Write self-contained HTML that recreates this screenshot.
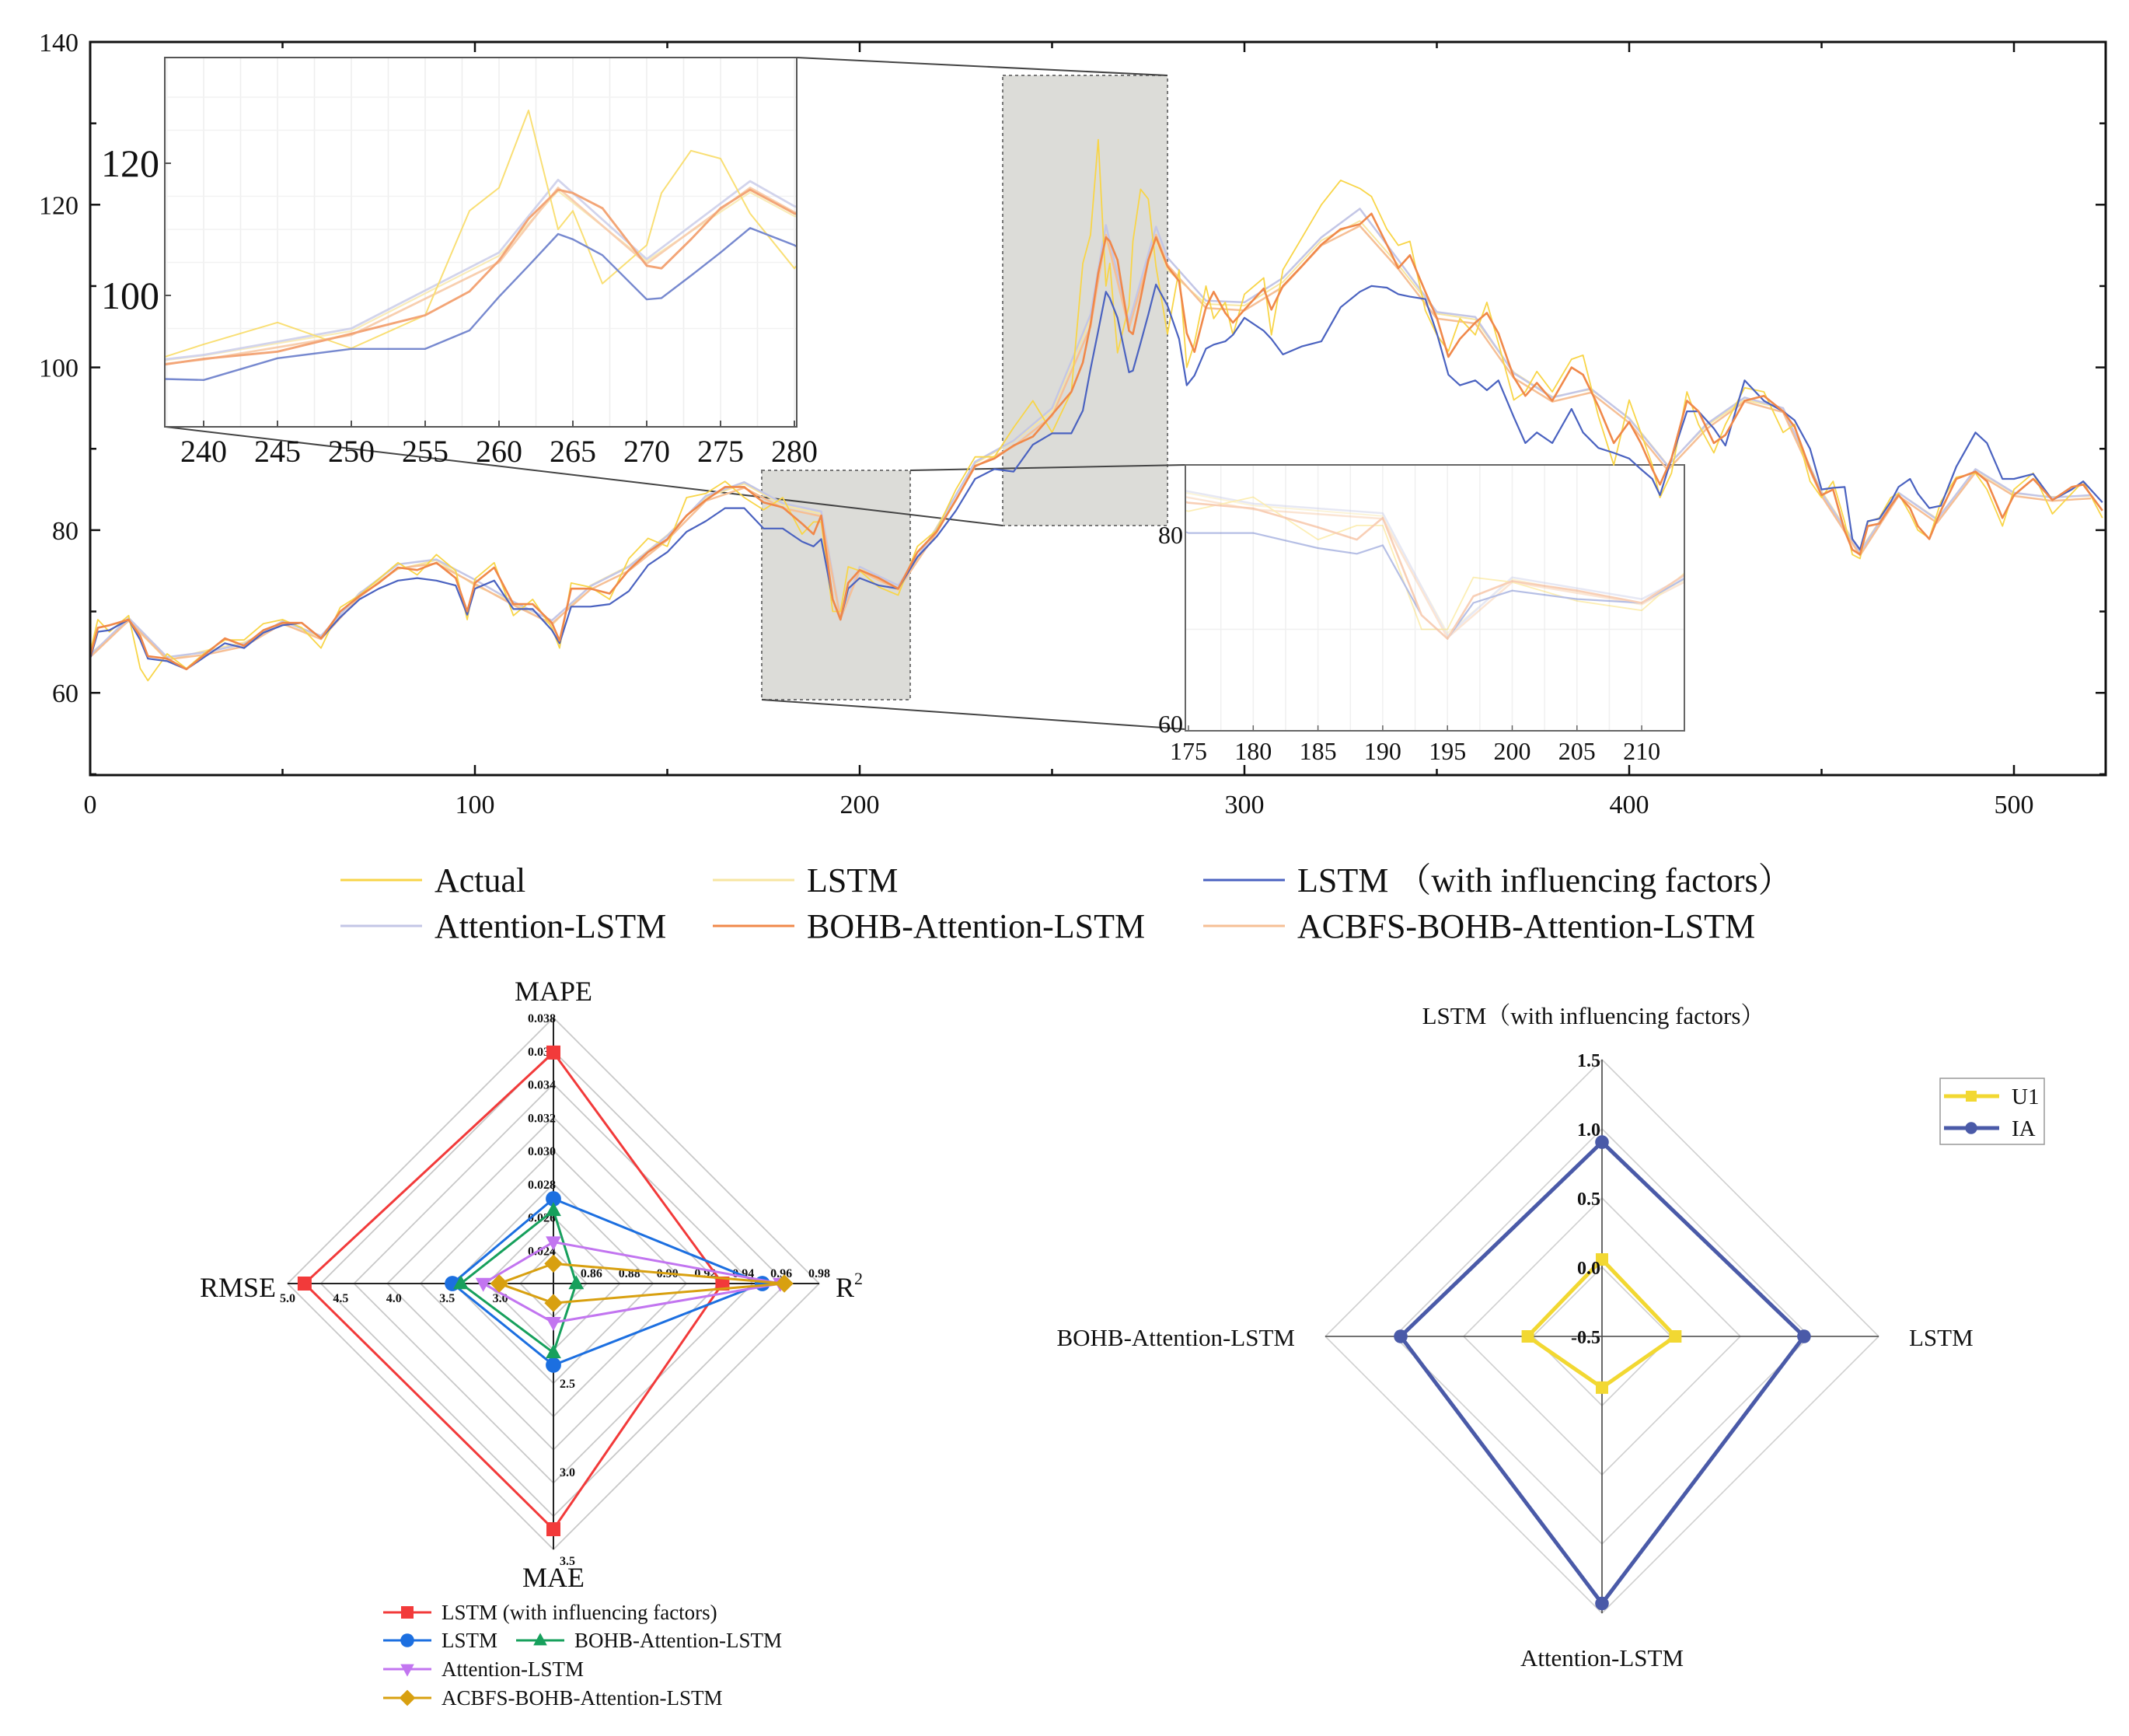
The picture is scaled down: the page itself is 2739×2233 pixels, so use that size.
<!DOCTYPE html>
<html><head><meta charset="utf-8"><style>
html,body{margin:0;padding:0;background:#fff}
svg{display:block;font-family:"Liberation Serif","Noto Serif CJK SC",serif}
</style></head><body>
<svg id="root" xmlns="http://www.w3.org/2000/svg" width="2739" height="2233" viewBox="0 0 2739 2233">
<defs>
<clipPath id="cMain"><rect x="116" y="54" width="2593" height="943"/></clipPath>
<clipPath id="cIn1"><rect x="212" y="74" width="813" height="475"/></clipPath>
<clipPath id="cIn2"><rect x="1525" y="598" width="642" height="342"/></clipPath>
</defs>
<rect x="0" y="0" width="2739" height="2233" fill="#fff"/>
<g id="main"></g>
<g id="legend"></g>
<g id="radar1"></g>
<g id="radar2"></g>
</svg>
<script>
// ---------- time series data ----------
const steps = [0,2,5,10,13,15,20,25,30,35,40,45,50,55,60,65,70,75,80,85,90,95,98,100,105,110,115,120,122,125,130,135,140,145,150,155,160,165,170,175,180,185,188,190,193,195,197,200,205,210,215,220,225,230,235,240,245,250,255,258,260,262,264,265,267,270,271,273,275,277,280,283,285,287,290,292,295,297,300,305,307,310,315,320,325,330,333,337,340,343,347,350,353,356,360,363,366,370,373,376,380,385,388,392,396,400,403,406,408,411,415,418,422,425,430,435,440,443,447,450,453,456,458,460,462,465,468,470,473,475,478,481,485,490,493,497,500,505,510,515,518,523];
const actualValues = [65,69,67.5,69.5,63,61.5,64.8,63,65,66.5,66.5,68.5,69,68,65.5,70.5,72,74,76,74.5,77,75,69,74,76,69.5,71.5,68,65.5,73.5,73,71.5,76.5,79,78,84,84.5,86,84,82.5,84,79.5,81,81,70,70,75.5,75,73,72,78,80,85,89,89,92.6,95.9,92,97,112.8,116.3,128,110,112.8,101.8,107.6,115.5,121.9,120.7,112.4,104.1,112,100,103,110,106,108,104,109,111,104,112,116,120,123,122,121,117,115,115.5,107,104,102,106,104,108,103,96,97,99.5,97,101,101.5,94,88,96,92,88,84,87,97,93,89.5,93,97.5,97,92,93,86,84,86,81,77,76.5,81,81.5,84,84.5,82,80,79,83.5,86.5,87,85,80.5,85,87,82,84.5,86,81.5];
const bohbValues = [64.5,68,68.3,69,67,64.5,64.2,62.9,64.8,66.7,65.8,67.7,68.6,68.6,66.7,70,71.9,73.5,75.4,75.1,76,74.1,70,73.5,75.4,70.9,70.9,68.6,66.4,72.8,72.8,72.2,75.1,77.3,78.9,81.8,83.7,85.3,85.3,83.4,82.8,80.8,79.5,81.8,71.5,69,73.5,75.1,74.1,72.8,77.3,79.8,83.7,87.9,88.8,90.4,91.5,94.2,97,100.6,105.3,111.6,116,115.5,113.2,104.5,104.1,108.5,113.2,116,112.4,110.6,104.2,101.9,107.4,109.3,106.7,105.5,107.1,109.7,107.1,110,112.5,115.1,117,117.6,118.9,115.1,112.2,113.8,109.3,106.1,101.3,103.5,105.5,106.7,104.2,98.8,96.5,98.1,95.9,100,99.1,95.2,90.7,93.3,90.7,87.5,85.6,88.8,95.9,94.6,90.7,91.7,95.9,96.5,94.6,92.7,87.5,84.3,85,79.9,77.6,77,80.5,80.8,83,84.3,82.7,80.5,78.9,82.4,86.3,87.2,86,81.5,84.3,86.3,83.7,85.3,85.6,82.4];
const lstmFactorsValues = [64.2,67.5,67.7,69,66.5,64.2,63.9,62.9,64.5,66.1,65.5,67.4,68.3,68.6,66.7,69.3,71.5,72.8,73.8,74.1,73.8,73.2,69.6,72.8,73.8,70.3,70.3,67.7,66.1,70.6,70.6,70.9,72.5,75.7,77.3,79.8,81.1,82.7,82.7,80.2,80.2,78.6,78,78.9,71.5,69,72.8,74.1,73.2,72.8,76.7,79.2,82.4,86.3,87.5,87.2,90.5,91.9,91.9,94.7,99.8,104.5,109.3,108.5,106.1,99.4,99.6,103,106.5,110.2,107.6,103.5,97.8,99,102.3,102.8,103.2,104,106.1,104.5,103.5,101.6,102.6,103.2,107.4,109.3,110,109.8,109,108.7,108.4,104.2,99.1,97.8,98.4,97.2,98.4,93.9,90.7,92,90.7,94.9,92,90.1,89.5,88.8,87.5,86.3,84.3,88.8,94.6,94.6,92.5,90.4,98.4,95.9,94.6,93.5,90,85,85.2,85.3,78.9,77.6,81.1,81.4,83.5,85.3,86.3,84.5,82.7,83,87.8,92,90.7,86.3,86.3,86.9,83.7,85,86,83.4];
const faintSteps = [0,10,20,30,40,50,60,70,80,90,100,110,120,130,140,150,160,170,180,190,195,200,210,220,230,240,250,260,264,270,277,280,290,300,310,320,330,340,350,360,370,380,390,400,410,420,430,440,450,460,470,480,490,500,510,520];
const attentionValues = [64.6,69.2,64.4,65,66,68.8,67,72.2,75.8,76.4,73.9,71.2,68.9,73.1,75.5,79.3,84.2,85.9,83.3,82.3,69.3,75.5,73.2,80.2,88.4,91,95,106.5,117.5,105.5,117.3,113.5,108.2,108,111,116,119.5,113.2,106.8,106.2,99.3,96.3,97.4,93.7,87.9,93,96.3,95,84.6,77.3,84.6,81.3,87.5,84.6,84,84.3];
const lstmValues = [64.8,68.8,64,65.2,66.2,68.4,66.9,72.3,75.2,76.3,73.2,71.1,68.3,73.2,75.6,79.4,84,85.7,83.1,82,69.6,75.3,72.6,80.4,88.2,90.9,94.6,106,115.8,105.2,115.6,112,107.8,107.6,110.5,115.6,118,112.6,106.6,105.9,99.4,96.4,97.3,93.8,88,92.8,96,95,84.8,77.5,84.6,81.4,87.4,84.5,84.1,84.2];
const acbfsValues = [64.4,68.9,64.1,64.7,65.7,68.5,66.6,71.8,75.3,75.9,73.4,70.8,68.5,72.7,75,78.8,83.6,85.2,82.7,81.7,69.1,75,72.7,79.7,87.8,90.3,94,105,116.3,104.8,116.3,112.6,107.3,107,109.9,115,117.4,112.1,106,105.4,98.7,95.8,96.9,93.2,87.4,92.4,95.8,94.5,84.2,76.9,84.2,80.9,87.1,84.2,83.6,83.9];
const xTicks = [0,100,200,300,400,500];
const yTicks = [60,80,100,120,140];
const inset1XTicks = [240,245,250,255,260,265,270,275,280];
const inset1YTicks = [100,120];
const inset2XTicks = [175,180,185,190,195,200,205,210];
const inset2YTicks = [60,80];

// ---------- radar 1 data ----------
const radar1Axes = ["MAPE","R²","MAE","RMSE"];
const radar1Min = [0.022,0.84,2.0,2.5];
const radar1Max = [0.038,0.98,3.5,5.0];
const radar1Models = ["LSTM (with influencing factors)","LSTM","BOHB-Attention-LSTM","Attention-LSTM","ACBFS-BOHB-Attention-LSTM"];
const radar1LstmFactors = [0.0359,0.929,3.386,4.84];
const radar1Lstm = [0.0271,0.950,2.46,3.45];
const radar1Bohb = [0.0264,0.852,2.39,3.37];
const radar1Attention = [0.0245,0.9595,2.22,3.16];
const radar1Acbfs = [0.0232,0.9616,2.11,3.01];
const mapeTicks = ["0.024","0.026","0.028","0.030","0.032","0.034","0.036","0.038"];
const r2Ticks = ["0.86","0.88","0.90","0.92","0.94","0.96","0.98"];
const maeTicks = ["2.5","3.0","3.5"];
const rmseTicks = ["3.0","3.5","4.0","4.5","5.0"];

// ---------- radar 2 data ----------
const radar2Axes = ["LSTM（with influencing factors）","LSTM","Attention-LSTM","BOHB-Attention-LSTM"];
const radar2U1 = [0.056,0.03,-0.13,0.036];
const radar2IA = [0.904,0.96,1.43,0.955];
const radar2Ticks = [-0.5,0,0.5,1.0,1.5];

const NS = "http://www.w3.org/2000/svg";
function mk(tag, attrs, parent){
  const e = document.createElementNS(NS, tag);
  for (const k in attrs) e.setAttribute(k, attrs[k]);
  parent.appendChild(e);
  return e;
}
function txt(parent, x, y, s, size, anchor, extra){
  const t = mk("text", Object.assign({x:x, y:y, "font-size":size, "text-anchor":anchor||"start", fill:"#111"}, extra||{}), parent);
  t.textContent = s;
  return t;
}
// scales
const X = t => 116 + 4.95*t;
const Y = v => 54 + (140 - v)*10.465;
const X1 = t => 262 + (t - 240)*19;
const Y1 = v => 380 - (v - 100)*8.5;
const X2 = t => 1529 + (t - 175)*16.66;
const Y2 = v => 688 - (v - 80)*12.15;
function pts(ts, vs, fx, fy){ return ts.map((t,i)=>fx(t).toFixed(1)+","+fy(vs[i]).toFixed(1)).join(" "); }

const seriesDefs = [
  {name:"lstm-line", ts:faintSteps, vs:lstmValues, color:"#f7e6a2", w:2},
  {name:"attention-lstm-line", ts:faintSteps, vs:attentionValues, color:"#c3c6e6", w:2.5},
  {name:"acbfs-line", ts:faintSteps, vs:acbfsValues, color:"#f6bf95", w:2.5},
  {name:"actual-line", ts:steps, vs:actualValues, color:"#f8d548", w:1.8},
  {name:"lstm-factors-line", ts:steps, vs:lstmFactorsValues, color:"#4a62c0", w:2.2},
  {name:"bohb-line", ts:steps, vs:bohbValues, color:"#f0884a", w:2.6}
];

const main = document.getElementById("main");
// gray zoom rectangles
const zr1 = mk("rect",{x:1290,y:97,width:212,height:579,fill:"#dcdcd8",stroke:"#777","stroke-width":2,"stroke-dasharray":"4,4"},main);


const zr2 = mk("rect",{x:980,y:605,width:191,height:295,fill:"#dcdcd8",stroke:"#777","stroke-width":2,"stroke-dasharray":"4,4"},main);


// connectors
[[1025,74,1502,97],[213,549,1290,676],[1171,605,1525,598],[980,900,1525,938]].forEach(c=>{
  const l = mk("line",{x1:c[0],y1:c[1],x2:c[2],y2:c[3],stroke:"#444","stroke-width":2},main);
  
  
});

// ----- inset 1 -----
const in1 = mk("g",{},main);


mk("rect",{x:212,y:74,width:813,height:475,fill:"#fff"},in1);
for(let t=237.5;t<=280;t+=2.5){ mk("line",{x1:X1(t),y1:74,x2:X1(t),y2:549,stroke:"#eeeeee","stroke-width":1.5},in1); }
[95,105,110,115,125,130].forEach(v=>mk("line",{x1:212,y1:Y1(v),x2:1025,y2:Y1(v),stroke:"#f2f2f2","stroke-width":1.5},in1));
const in1s = mk("g",{"clip-path":"url(#cIn1)",opacity:0.75},in1);
seriesDefs.forEach(s=>{
  const p = mk("polyline",{points:pts(s.ts,s.vs,X1,Y1),fill:"none",stroke:s.color,"stroke-width":s.w*1.1,"stroke-linejoin":"round"},in1s);
  
  
});
mk("rect",{x:212,y:74,width:813,height:475,fill:"none",stroke:"#555","stroke-width":2},in1);
inset1XTicks.forEach(t=>{
  mk("line",{x1:X1(t),y1:549,x2:X1(t),y2:541,stroke:"#555","stroke-width":2},in1);
  const l = txt(in1, X1(t), 594, String(t), 40, "middle");
  
  
});
inset1YTicks.forEach(v=>{
  mk("line",{x1:212,y1:Y1(v),x2:220,y2:Y1(v),stroke:"#555","stroke-width":2},in1);
  const l = txt(in1, 205, Y1(v)+17, String(v), 50, "end");
  
  
});

// ----- inset 2 -----
const in2 = mk("g",{},main);


mk("rect",{x:1525,y:598,width:642,height:342,fill:"#fff"},in2);
for(let t=177.5;t<=212;t+=2.5){ mk("line",{x1:X2(t),y1:598,x2:X2(t),y2:940,stroke:"#f0f0f0","stroke-width":1.5},in2); }
mk("line",{x1:1525,y1:Y2(70),x2:2167,y2:Y2(70),stroke:"#f0f0f0","stroke-width":1.5},in2);
const in2s = mk("g",{"clip-path":"url(#cIn2)",opacity:0.4},in2);
seriesDefs.forEach(s=>{
  const p = mk("polyline",{points:pts(s.ts,s.vs,X2,Y2),fill:"none",stroke:s.color,"stroke-width":s.w,"stroke-linejoin":"round"},in2s);
  
  
});
mk("rect",{x:1525,y:598,width:642,height:342,fill:"none",stroke:"#666","stroke-width":2},in2);
inset2XTicks.forEach(t=>{
  mk("line",{x1:X2(t),y1:940,x2:X2(t),y2:933,stroke:"#666","stroke-width":1.5},in2);
  const l = txt(in2, X2(t), 977, String(t), 32, "middle");
  
  
});
inset2YTicks.forEach(v=>{
  const l = txt(in2, 1522, Y2(v)+11, String(v), 32, "end");
  
  
});

// ----- main series -----
const ms = mk("g",{"clip-path":"url(#cMain)"},main);
seriesDefs.forEach(s=>{
  const p = mk("polyline",{points:pts(s.ts,s.vs,X,Y),fill:"none",stroke:s.color,"stroke-width":s.w,"stroke-linejoin":"round"},ms);
  
  
});
// frame & ticks
const frame = mk("rect",{x:116,y:54,width:2593,height:943,fill:"none",stroke:"#111","stroke-width":3},main);


for(let t=0;t<=520;t+=50){
  const len = (t%100===0)?13:8;
  mk("line",{x1:X(t),y1:997,x2:X(t),y2:997-len,stroke:"#111","stroke-width":2.5},main);
  mk("line",{x1:X(t),y1:54,x2:X(t),y2:54+len,stroke:"#111","stroke-width":2.5},main);
}
for(let v=50;v<=140;v+=10){
  const len = (v%20===0)?13:8;
  mk("line",{x1:116,y1:Y(v),x2:116+len,y2:Y(v),stroke:"#111","stroke-width":2.5},main);
  mk("line",{x1:2709,y1:Y(v),x2:2709-len,y2:Y(v),stroke:"#111","stroke-width":2.5},main);
}
xTicks.forEach(t=>{
  const l = txt(main, X(t), 1046, String(t), 34, "middle");
  
  
});
yTicks.forEach(v=>{
  const l = txt(main, 101, Y(v)+12, String(v), 34, "end");
  
  
});

// ----- legend -----
const legend = document.getElementById("legend");
const legendItems = [
  ["Actual","#f8d548",438,1132],["LSTM","#f7e6a2",917,1132],["LSTM （with influencing factors）","#4a62c0",1548,1132],
  ["Attention-LSTM","#c3c6e6",438,1191],["BOHB-Attention-LSTM","#f0884a",917,1191],["ACBFS-BOHB-Attention-LSTM","#f6bf95",1548,1191]
];
legendItems.forEach(it=>{
  const g = mk("g",{},legend);
  
  
  mk("line",{x1:it[2],y1:it[3],x2:it[2]+105,y2:it[3],stroke:it[1],"stroke-width":3},g);
  txt(g, it[2]+121, it[3]+15, it[0], 44, "start");
});

// ----- radar 1 -----
const r1 = document.getElementById("radar1");
const C1x = 712, C1y = 1651, R1 = 342;
const dirs = [[0,-1],[1,0],[0,1],[-1,0]];
for(let k=1;k<=8;k++){
  const r = R1*k/8;
  const p = dirs.map(d=>(C1x+d[0]*r)+","+(C1y+d[1]*r)).join(" ");
  mk("polygon",{points:p,fill:"none",stroke:"#c8c8c8","stroke-width":1.8},r1);
}
mk("line",{x1:C1x,y1:C1y-R1,x2:C1x,y2:C1y+R1,stroke:"#222","stroke-width":2},r1);
mk("line",{x1:C1x-R1,y1:C1y,x2:C1x+R1,y2:C1y,stroke:"#222","stroke-width":2},r1);
const rad1 = (ai,v) => (v - radar1Min[ai])/(radar1Max[ai]-radar1Min[ai])*R1;
function tickLab(parent, x, y, s, anchor){ const l = txt(parent,x,y,s,16,anchor,{"font-weight":"bold"});   }
mapeTicks.forEach(s=>{ const r = rad1(0, parseFloat(s)); tickLab(r1, C1x+3, C1y-r+6, s, "end"); });
r2Ticks.forEach(s=>{ const r = rad1(1, parseFloat(s)); tickLab(r1, C1x+r, C1y-8, s, "middle"); });
maeTicks.forEach(s=>{ const r = rad1(2, parseFloat(s)); tickLab(r1, C1x+8, C1y+r+20, s, "start"); });
rmseTicks.forEach(s=>{ const r = rad1(3, parseFloat(s)); tickLab(r1, C1x-r, C1y+24, s, "middle"); });
[["MAPE",C1x,1287,"middle"],["RMSE",257,1668,"start"],["MAE",C1x,2041,"middle"]].forEach(a=>{
  const l = txt(r1,a[1],a[2],a[0],36,a[3]);
  
  
});
const r2t = txt(r1,1075,1668,"R",36,"start");


const sup = mk("tspan",{"font-size":22,dy:-16},r2t); sup.textContent="2";

function marker(parent, shape, x, y, color, s){
  let e;
  if(shape==="square") e = mk("rect",{x:x-s,y:y-s,width:2*s,height:2*s,fill:color},parent);
  else if(shape==="circle") e = mk("circle",{cx:x,cy:y,r:s*1.1,fill:color},parent);
  else if(shape==="up") e = mk("polygon",{points:`${x},${y-s*1.2} ${x+s*1.1},${y+s*0.8} ${x-s*1.1},${y+s*0.8}`,fill:color},parent);
  else if(shape==="down") e = mk("polygon",{points:`${x},${y+s*1.2} ${x+s*1.1},${y-s*0.8} ${x-s*1.1},${y-s*0.8}`,fill:color},parent);
  else e = mk("polygon",{points:`${x},${y-s*1.3} ${x+s*1.3},${y} ${x},${y+s*1.3} ${x-s*1.3},${y}`,fill:color},parent);
  return e;
}
const r1Series = [
  {vals:radar1LstmFactors,color:"#f23a3a",shape:"square",name:"radar1-lstm-factors"},
  {vals:radar1Lstm,color:"#1c6fe0",shape:"circle",name:"radar1-lstm"},
  {vals:radar1Bohb,color:"#17a05c",shape:"up",name:"radar1-bohb"},
  {vals:radar1Attention,color:"#c275f0",shape:"down",name:"radar1-attention"},
  {vals:radar1Acbfs,color:"#d8a010",shape:"diamond",name:"radar1-acbfs"}
];
r1Series.forEach(s=>{
  const g = mk("g",{},r1);
  
  
  const P = s.vals.map((v,i)=>{ const r = rad1(i,v); return [C1x+dirs[i][0]*r, C1y+dirs[i][1]*r]; });
  mk("polygon",{points:P.map(p=>p.join(",")).join(" "),fill:"none",stroke:s.color,"stroke-width":3},g);
  P.forEach(p=>marker(g,s.shape,p[0],p[1],s.color,9));
});
// radar1 legend
const r1leg = [[0,493,2074],[1,493,2110],[2,664,2110],[3,493,2147],[4,493,2184]];
r1leg.forEach(e=>{
  const s = r1Series[e[0]];
  const g = mk("g",{},r1);
  
  
  mk("line",{x1:e[1],y1:e[2],x2:e[1]+62,y2:e[2],stroke:s.color,"stroke-width":3},g);
  marker(g,s.shape,e[1]+31,e[2],s.color,8);
  txt(g,e[1]+75,e[2]+9,radar1Models[e[0]],27,"start");
});

// ----- radar 2 -----
const r2 = document.getElementById("radar2");
const C2x = 2061, C2y = 1719, R2 = 356;
const rad2 = v => (v - radar2Ticks[0])/(radar2Ticks[radar2Ticks.length-1]-radar2Ticks[0])*R2;
for(let k=1;k<=4;k++){
  const r = R2*k/4;
  const p = dirs.map(d=>(C2x+d[0]*r)+","+(C2y+d[1]*r)).join(" ");
  mk("polygon",{points:p,fill:"none",stroke:"#cfcfcf","stroke-width":1.6},r2);
}
mk("line",{x1:C2x,y1:C2y-R2,x2:C2x,y2:C2y+R2,stroke:"#444","stroke-width":1.6},r2);
mk("line",{x1:C2x-R2,y1:C2y,x2:C2x+R2,y2:C2y,stroke:"#444","stroke-width":1.6},r2);
const r2SeriesDefs = [
  {vals:radar2IA,color:"#4a5aa8",name:"radar2-ia",shape:"circle"},
  {vals:radar2U1,color:"#f2d832",name:"radar2-u1",shape:"square"}
];
r2SeriesDefs.forEach(s=>{
  const g = mk("g",{},r2);
  
  
  const P = s.vals.map((v,i)=>{ const r = rad2(v); return [C2x+dirs[i][0]*r, C2y+dirs[i][1]*r]; });
  mk("polygon",{points:P.map(p=>p.join(",")).join(" "),fill:"none",stroke:s.color,"stroke-width":5},g);
  P.forEach(p=>marker(g,s.shape,p[0],p[1],s.color,8));
});
radar2Ticks.forEach(v=>{
  const l = txt(r2, C2x-2, C2y-rad2(v)+9, v.toFixed(1), 24, "end", {"font-weight":"bold"});
  
  
});
[[radar2Axes[0],2050,1317,"middle"],[radar2Axes[1],2456,1731,"start"],[radar2Axes[2],2061,2143,"middle"],[radar2Axes[3],1666,1731,"end"]].forEach(a=>{
  const l = txt(r2,a[1],a[2],a[0],31,a[3]);
  
  
});
const lb = mk("rect",{x:2496,y:1387,width:134,height:85,fill:"#fff",stroke:"#999","stroke-width":1.5},r2);


[["U1","#f2d832","square",1410],["IA","#4a5aa8","circle",1451]].forEach(e=>{
  const g = mk("g",{},r2);
  
  
  mk("line",{x1:2501,y1:e[3],x2:2572,y2:e[3],stroke:e[1],"stroke-width":5},g);
  marker(g,e[2],2536,e[3],e[1],7);
  txt(g,2588,e[3]+10,e[0],29,"start");
});
</script>
</body></html>
